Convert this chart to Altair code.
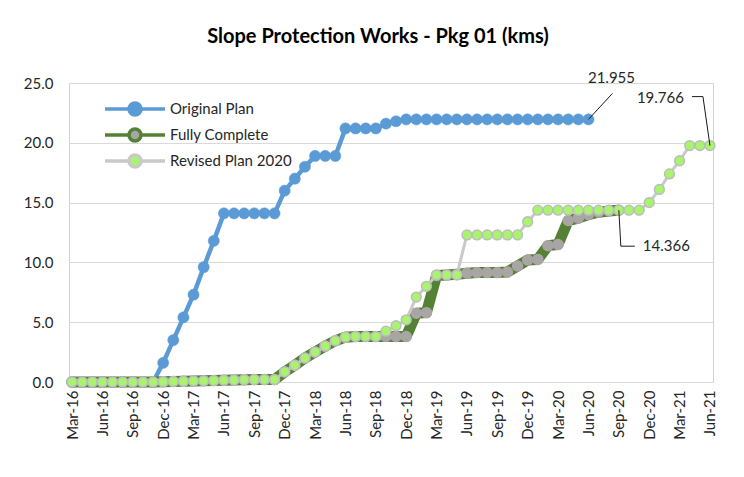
import altair as alt
import pandas as pd

months = [
    "Mar-16", "Apr-16", "May-16", "Jun-16", "Jul-16", "Aug-16", "Sep-16", "Oct-16", "Nov-16", "Dec-16",
    "Jan-17", "Feb-17", "Mar-17", "Apr-17", "May-17", "Jun-17", "Jul-17", "Aug-17", "Sep-17", "Oct-17", "Nov-17", "Dec-17",
    "Jan-18", "Feb-18", "Mar-18", "Apr-18", "May-18", "Jun-18", "Jul-18", "Aug-18", "Sep-18", "Oct-18", "Nov-18", "Dec-18",
    "Jan-19", "Feb-19", "Mar-19", "Apr-19", "May-19", "Jun-19", "Jul-19", "Aug-19", "Sep-19", "Oct-19", "Nov-19", "Dec-19",
    "Jan-20", "Feb-20", "Mar-20", "Apr-20", "May-20", "Jun-20", "Jul-20", "Aug-20", "Sep-20", "Oct-20", "Nov-20", "Dec-20",
    "Jan-21", "Feb-21", "Mar-21", "Apr-21", "May-21", "Jun-21",
]
tick_labels = [
    "Mar-16", "Jun-16", "Sep-16", "Dec-16", "Mar-17", "Jun-17", "Sep-17", "Dec-17",
    "Mar-18", "Jun-18", "Sep-18", "Dec-18", "Mar-19", "Jun-19", "Sep-19", "Dec-19",
    "Mar-20", "Jun-20", "Sep-20", "Dec-20", "Mar-21", "Jun-21",
]
y_ticks = [0, 5, 10, 15, 20, 25]

series_names = ["Original Plan", "Fully Complete", "Revised Plan 2020"]

original_plan = [
    0, 0, 0, 0, 0, 0, 0, 0, 0, 1.6,
    3.5, 5.4, 7.3, 9.6, 11.8, 14.1, 14.1, 14.1, 14.1, 14.1, 14.1, 16.0,
    17.0, 18.0, 18.9, 18.9, 18.9, 21.2, 21.2, 21.2, 21.2, 21.6, 21.8, 21.955,
    21.955, 21.955, 21.955, 21.955, 21.955, 21.955, 21.955, 21.955, 21.955, 21.955, 21.955, 21.955,
    21.955, 21.955, 21.955, 21.955, 21.955, 21.955,
]
fully_complete = [
    0, 0, 0, 0, 0, 0, 0, 0, 0, 0.02,
    0.04, 0.06, 0.08, 0.1, 0.12, 0.15, 0.17, 0.19, 0.2, 0.2, 0.2, 0.85,
    1.4, 2.0, 2.5, 3.0, 3.45, 3.75, 3.8, 3.8, 3.8, 3.8, 3.8, 3.8,
    5.75, 5.8, 8.9, 8.95, 9.0, 9.1, 9.15, 9.15, 9.15, 9.2, 9.7, 10.2,
    10.25, 11.4, 11.5, 13.5, 13.7, 14.0, 14.2, 14.3, 14.366,
]
revised_plan = [
    0, 0, 0, 0, 0, 0, 0, 0, 0, 0.02,
    0.04, 0.06, 0.08, 0.1, 0.12, 0.15, 0.17, 0.19, 0.2, 0.2, 0.2, 0.85,
    1.4, 2.0, 2.5, 3.0, 3.45, 3.75, 3.8, 3.8, 3.8, 4.25, 4.7, 5.2,
    7.1, 8.0, 8.95, 8.95, 8.95, 12.3, 12.3, 12.3, 12.3, 12.3, 12.3, 13.4,
    14.366, 14.366, 14.366, 14.366, 14.366, 14.366, 14.366, 14.366, 14.366, 14.366, 14.366, 15.0,
    16.1, 17.4, 18.5, 19.766, 19.766, 19.766,
]

rows = []
for name, vals in zip(series_names, [original_plan, fully_complete, revised_plan]):
    for i, v in enumerate(vals):
        rows.append({"series": name, "month": months[i], "idx": i, "value": v})
df = pd.DataFrame(rows)

ann_df = pd.DataFrame({
    "month": [months[len(original_plan) - 1], months[len(revised_plan) - 1], months[len(fully_complete) - 1]],
    "value": [original_plan[-1], revised_plan[-1], fully_complete[-1]],
    "text": [f"{original_plan[-1]:.3f}", f"{revised_plan[-1]:.3f}", f"{fully_complete[-1]:.3f}"],
})

FONT = "Lato"
BLUE = "#5B9BD5"
DKGREEN = "#548235"
GREY_MK = "#A9A5A5"
LTGREY = "#C9C9C9"
LTGREEN = "#A8F46C"

stroke_scale = alt.Scale(domain=series_names, range=[BLUE, DKGREEN, LTGREY])
fill_scale = alt.Scale(domain=series_names, range=[BLUE, GREY_MK, LTGREEN])

SYMBOL = "M-5,0L-1,0M1,0L5,0M-1,0A1,1,0,1,1,1,0A1,1,0,1,1,-1,0Z"
legend = alt.Legend(
    title=None, orient="none", legendX=58, legendY=18,
    symbolType=SYMBOL, symbolSize=144, symbolStrokeWidth=3.5,
    labelOffset=27, labelFontSize=15, labelFont=FONT, labelColor="#262626",
    rowPadding=0, padding=0,
)

X = alt.X(
    "month:O", sort=months, title=None,
    scale=alt.Scale(type="point", padding=0.3),
    axis=alt.Axis(values=tick_labels, labelAngle=-90, labelFont=FONT, labelFontSize=15,
                  labelColor="#262626", labelPadding=8, ticks=False, domainColor="#D9D9D9",
                  grid=False),
)
Y = alt.Y(
    "value:Q", title=None, scale=alt.Scale(domain=[0, 25]),
    axis=alt.Axis(values=y_ticks, format=".1f", labelFont=FONT, labelFontSize=15,
                  labelColor="#262626", labelPadding=16, ticks=False, domain=False,
                  gridColor="#D9D9D9", gridWidth=1),
)

base = alt.Chart(df)


def series_layers(name, line_w, pt_size, pt_stroke, pt_stroke_w):
    sub = base.transform_filter(alt.datum.series == name)
    line = sub.mark_line(strokeWidth=line_w, strokeJoin="round", strokeCap="round").encode(
        x=X, y=Y, order="idx:Q",
        stroke=alt.Stroke("series:N", scale=stroke_scale, legend=legend),
    )
    pts = sub.mark_circle(size=pt_size, opacity=1, stroke=pt_stroke, strokeWidth=pt_stroke_w).encode(
        x=X, y=Y,
        fill=alt.Fill("series:N", scale=fill_scale, legend=legend),
    )
    return [line, pts]


layers = []
layers += series_layers("Original Plan", 4.5, 125, BLUE, 0.5)
layers += series_layers("Fully Complete", 11, 100, GREY_MK, 1.5)
layers += series_layers("Revised Plan 2020", 3, 95, "#BDBDBD", 1.6)


def annotation(i, segs, tdx, tdy, align):
    d = alt.Chart(ann_df.iloc[[i]])
    out = []
    for (x0, y0, x1, y1) in segs:
        out.append(d.mark_rule(color="#1a1a1a", strokeWidth=1, xOffset=x0, yOffset=y0,
                               x2Offset=x1, y2Offset=y1).encode(
            x=X, y=Y, x2=alt.X2("month:O"), y2=alt.Y2("value:Q")))
    out.append(d.mark_text(dx=tdx, dy=tdy, align=align, baseline="middle", font=FONT,
                           fontSize=15, color="#262626").encode(x=X, y=Y, text="text:N"))
    return out


layers += annotation(0, [(0, 0, 24, -26)], 23, -41, "center")
layers += annotation(1, [(0, 0, -7, -49), (-7, -49, -18, -49)], -26, -48, "right")
layers += annotation(2, [(0, 0, 2, 36), (2, 36, 16, 36)], 24, 36, "left")

chart = alt.layer(*layers).properties(
    width=644, height=299,
    padding={"left": 61, "top": 75, "right": 20, "bottom": 80},
    autosize=alt.AutoSizeParams(type="none"),
    title=alt.Title("Slope Protection Works - Pkg 01 (kms)", font=FONT, fontSize=20,
                    fontWeight="bold", color="#000000", anchor="middle", dx=-13, offset=24),
    background="white",
).configure_view(stroke="#C5D4EA", strokeWidth=1)

chart.save("out.html", embed_options={"renderer": "svg", "actions": False})
